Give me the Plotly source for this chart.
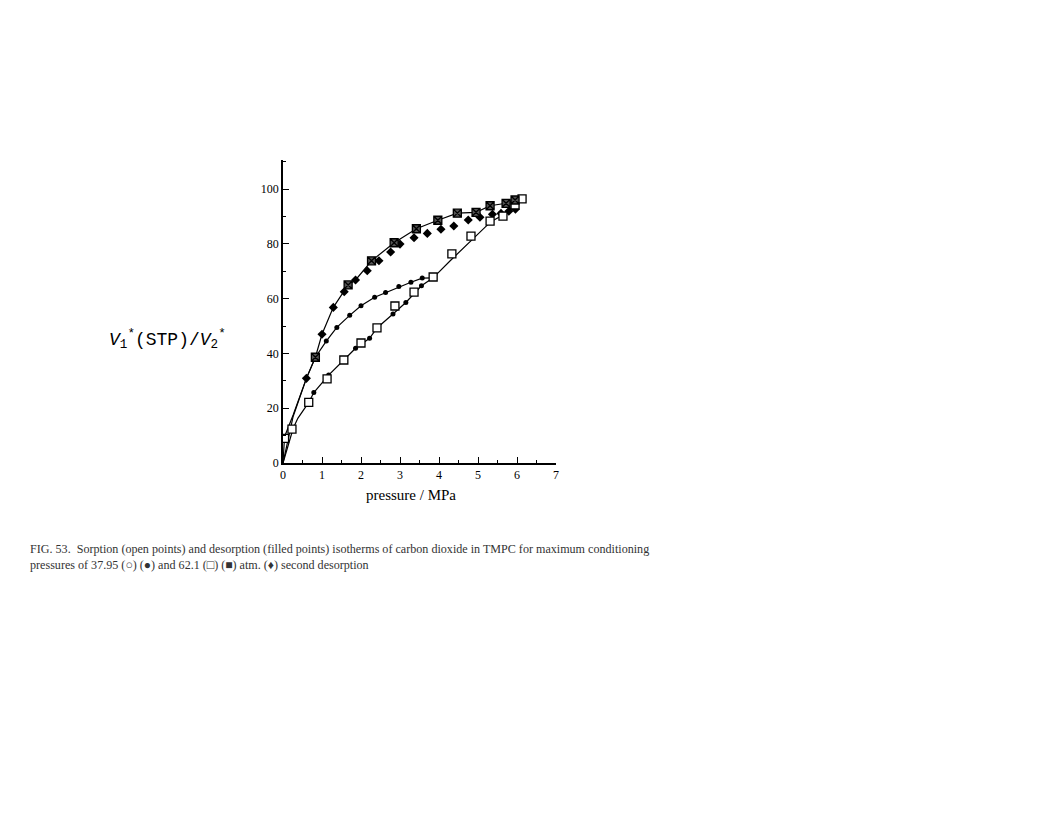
import plotly.graph_objects as go

# upper curve (desorption after 62.1 atm), drawn line
upper_line_x = [0, 0.04, 0.26, 0.6, 0.83, 1.0, 1.29, 1.57, 1.67, 1.86, 2.27, 2.85, 3.42, 3.97, 4.47, 4.95, 5.31, 5.72, 5.95, 6.13]
upper_line_y = [0, 9.6, 17.5, 30.9, 38.6, 47.0, 56.8, 62.5, 65.0, 66.8, 73.8, 80.4, 85.5, 88.6, 91.2, 91.5, 93.9, 94.8, 96.0, 96.4]

# boxed filled squares (62.1 atm desorption)
box_x = [0.83, 1.67, 2.27, 2.85, 3.42, 3.97, 4.47, 4.95, 5.31, 5.72, 5.95]
box_y = [38.6, 65.0, 73.8, 80.4, 85.5, 88.6, 91.2, 91.5, 93.9, 94.8, 96.0]

# second desorption (diamonds)
dia_x = [0.6, 1.0, 1.29, 1.57, 1.86, 2.16, 2.46, 2.76, 3.0, 3.36, 3.70, 4.05, 4.38, 4.75, 5.05, 5.37, 5.59, 5.79, 5.96]
dia_y = [30.9, 47.0, 56.8, 62.5, 66.8, 70.2, 73.8, 77.0, 79.9, 82.2, 83.8, 85.3, 86.5, 88.7, 89.7, 90.8, 91.1, 91.9, 92.6]

# middle curve (desorption after 37.95 atm)
mid_x = [0, 0.26, 0.6, 0.83, 1.11, 1.38, 1.71, 2.0, 2.35, 2.63, 2.97, 3.28, 3.57, 3.85]
mid_y = [0, 17.0, 30.9, 38.6, 44.5, 49.5, 53.9, 57.4, 60.5, 62.2, 64.4, 66.0, 67.5, 67.6]
mid_dot_x = [1.11, 1.38, 1.71, 2.0, 2.35, 2.63, 2.97, 3.28, 3.57]
mid_dot_y = [44.5, 49.5, 53.9, 57.4, 60.5, 62.2, 64.4, 66.0, 67.5]

# lower curve (sorption)
low_x = [0, 0.1, 0.26, 0.38, 0.66, 0.79, 1.17, 1.56, 1.86, 2.22, 2.41, 2.82, 3.15, 3.55, 3.85, 4.3, 4.8, 5.33, 5.64, 5.95, 6.13]
low_y = [0, 5.0, 12.6, 16.3, 22.1, 25.7, 32.1, 37.6, 41.9, 45.5, 49.3, 54.4, 58.6, 64.7, 67.6, 74.0, 81.0, 88.1, 90.5, 94.2, 96.4]
low_dot_x = [0.79, 1.17, 1.86, 2.22, 2.82, 3.15, 3.55]
low_dot_y = [25.7, 32.1, 41.9, 45.5, 54.4, 58.6, 64.7]

# open squares (sorption)
sq_x = [0.04, 0.23, 0.66, 1.13, 1.56, 2.0, 2.41, 2.87, 3.36, 3.85, 4.33, 4.82, 5.31, 5.64, 5.95, 6.13]
sq_y = [9.0, 12.4, 22.1, 30.7, 37.6, 43.8, 49.3, 57.3, 62.4, 67.9, 76.3, 82.8, 88.3, 90.1, 94.2, 96.4]

x_ticks = [0, 1, 2, 3, 4, 5, 6, 7]
y_ticks = [0, 20, 40, 60, 80, 100]

ink = "black"
fig = go.Figure()

for lx, ly in [(upper_line_x, upper_line_y), (mid_x, mid_y), (low_x, low_y)]:
    fig.add_trace(go.Scatter(x=lx, y=ly, mode="lines",
                             line=dict(color=ink, width=1.2), hoverinfo="skip"))

fig.add_trace(go.Scatter(x=mid_dot_x, y=mid_dot_y, mode="markers",
                         marker=dict(symbol="circle", size=5, color=ink)))
fig.add_trace(go.Scatter(x=low_dot_x, y=low_dot_y, mode="markers",
                         marker=dict(symbol="circle", size=5, color=ink)))
fig.add_trace(go.Scatter(x=dia_x, y=dia_y, mode="markers",
                         marker=dict(symbol="diamond", size=7, color=ink)))
fig.add_trace(go.Scatter(x=sq_x, y=sq_y, mode="markers",
                         marker=dict(symbol="square", size=8, color="white",
                                     line=dict(color=ink, width=1.3))))
fig.add_trace(go.Scatter(x=box_x, y=box_y, mode="markers",
                         marker=dict(symbol="square-x", size=8, color="#555",
                                     line=dict(color=ink, width=1.3))))

serif = "Liberation Serif"

fig.update_xaxes(range=[0, 7], tickvals=x_ticks, ticks="inside", ticklen=6,
                 tickcolor=ink, showline=True, linecolor=ink, linewidth=1.5,
                 showgrid=False, zeroline=False,
                 minor=dict(dtick=0.5, ticks="inside", ticklen=3, tickcolor=ink),
                 tickfont=dict(family=serif, size=12, color=ink))
fig.update_yaxes(range=[0, 110.6], tickvals=y_ticks, ticks="inside", ticklen=6,
                 tickcolor=ink, showline=True, linecolor=ink, linewidth=1.5,
                 showgrid=False, zeroline=False,
                 minor=dict(dtick=10, ticks="inside", ticklen=3, tickcolor=ink),
                 tickfont=dict(family=serif, size=12, color=ink))

fig.add_annotation(text="pressure / MPa", xref="paper", yref="paper",
                   x=0.47, y=-0.105, showarrow=False, yanchor="middle",
                   font=dict(family=serif, size=15, color=ink))
fig.add_annotation(text="<i>V</i><sub>1</sub><sup>*</sup>(STP)/<i>V</i><sub>2</sub><sup>*</sup>",
                   xref="paper", yref="paper", x=-0.2, y=0.406, xanchor="right",
                   showarrow=False,
                   font=dict(family="Liberation Mono", size=18, color=ink))

caption = ["FIG. 53.  Sorption (open points) and desorption (filled points) isotherms of carbon dioxide in TMPC for maximum conditioning",
           "pressures of 37.95 (○) (●) and 62.1 (□) (■) atm. (♦) second desorption"]
fig.add_annotation(text="<br>".join(caption), xref="paper", yref="paper",
                   x=-0.934, y=-0.254, xanchor="left", yanchor="top", align="left",
                   showarrow=False,
                   font=dict(family=serif, size=12.1, color="#333"))

fig.update_layout(width=1056, height=814, showlegend=False,
                  paper_bgcolor="white", plot_bgcolor="white",
                  margin=dict(l=275, r=508, t=152, b=359))

fig.write_html("out.html")
